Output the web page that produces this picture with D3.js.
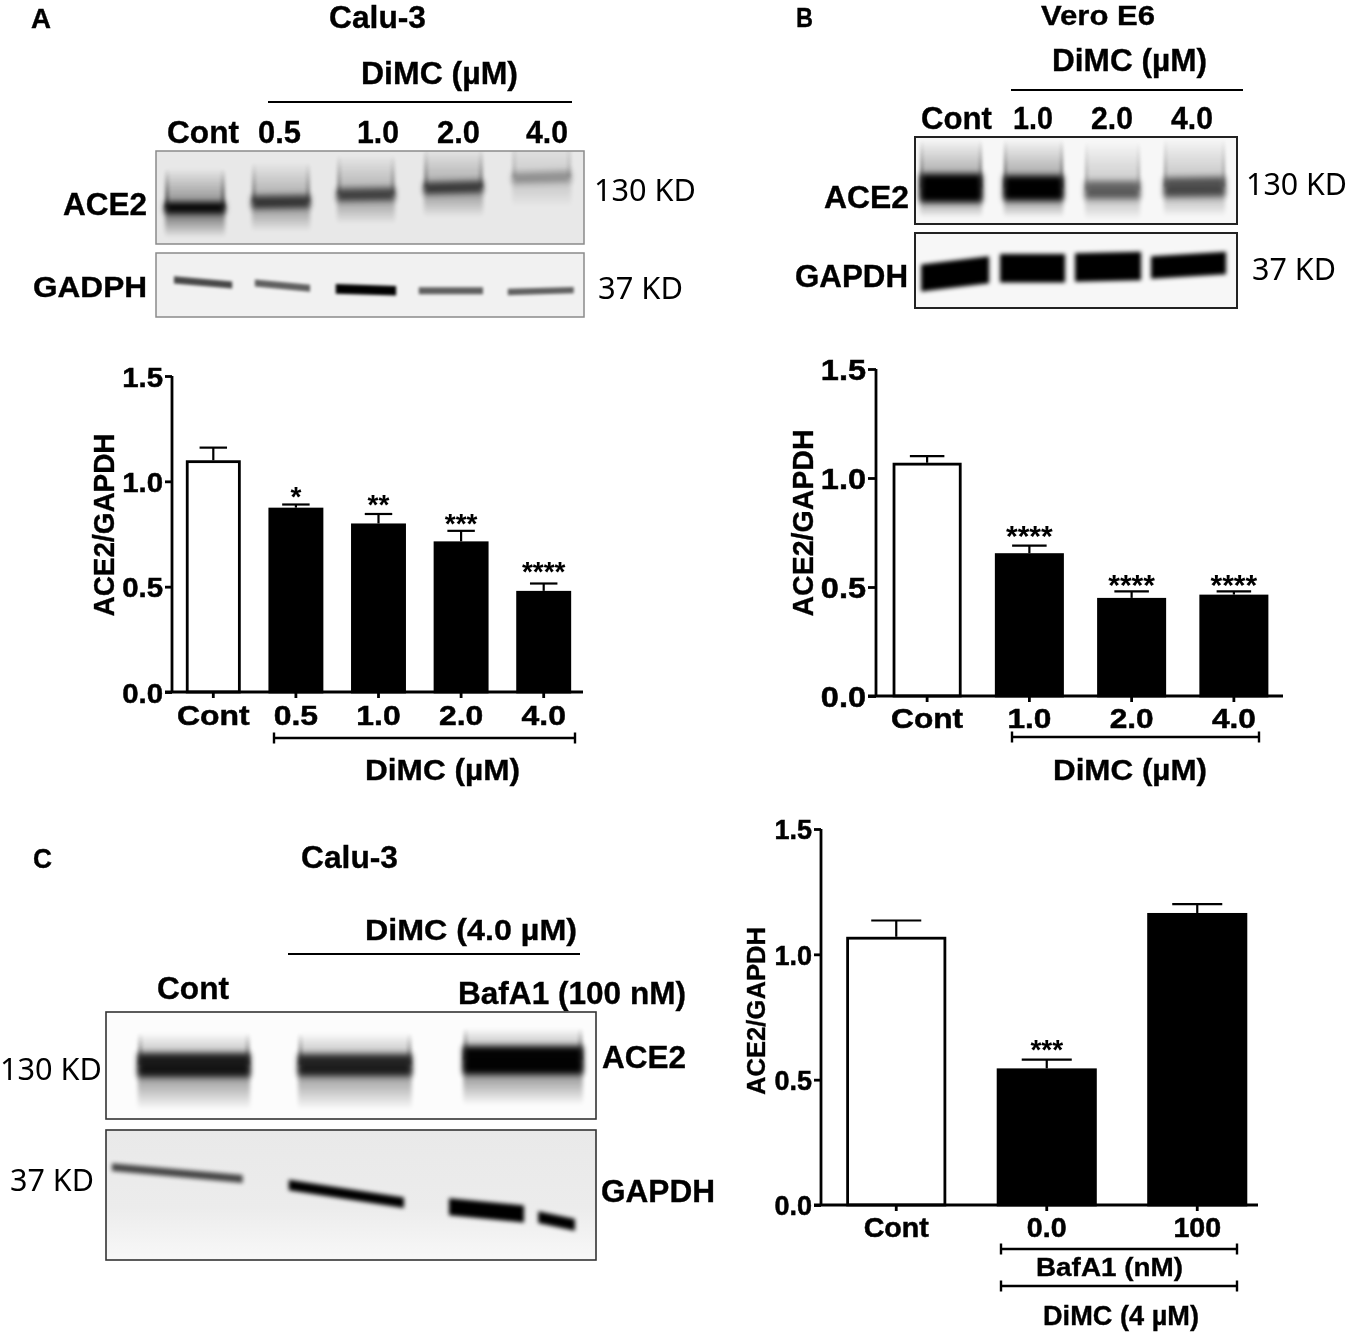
<!DOCTYPE html>
<html><head><meta charset="utf-8">
<script src="https://cdn.jsdelivr.net/npm/d3@7/dist/d3.min.js"></script>
<style>html,body{margin:0;background:#fff}svg{display:block;filter:blur(0.35px)}</style></head>
<body><svg id="fig" width="1350" height="1332"></svg>
<script>
// ---- bar chart data ----
const catsA = ["Cont","0.5","1.0","2.0","4.0"];
const meanA = [1.10,0.875,0.80,0.715,0.48];
const topA  = [1.16,0.89,0.845,0.765,0.515];
const starA = ["","*","**","***","****"];

const catsB = ["Cont","1.0","2.0","4.0"];
const meanB = [1.07,0.655,0.45,0.465];
const topB  = [1.10,0.69,0.48,0.48];
const starB = ["","****","****","****"];

const catsC = ["Cont","0.0","100"];
const meanC = [1.07,0.545,1.165];
const topC  = [1.135,0.58,1.20];
const starC = ["","***",""];

const yTicks = [0,0.5,1.0,1.5];

// ---- blot band readings, in percent of each blot's width / height ----
const aAceLanes=[[2.1,16.1],[22.4,36],[42.3,55.8],[62.6,76.4],[83.2,97]];
const aAceY0=[61,55,47,40,29], aAceY1=[61,54,46,38,27];
const aAceSignal=[1,.68,.62,.66,.28], aAceThick=[11,13,13,12,12];
const aGapLanes=[[4.2,17.8],[23.1,36],[42,56.1],[61.4,76.4],[82.2,97.6]];
const aGapY0=[42,47,56,59,61], aGapY1=[50,55,59,59,58];
const aGapSignal=[.7,.6,1,.6,.6], aGapThick=[11,11,15,11,10];
const bAceLanes=[[1.6,20.8],[27.6,46],[52.8,69.9],[77.3,96.3]];
const bAceY0=[58.6,58.6,61,58], bAceY1=[58.6,58.6,61,57];
const bAceSignal=[1,1,.5,.58], bAceThick=[32,28,20,22];
const bGapLanes=[[1.9,23],[26.4,46.6],[49.7,70.2],[73.3,96.6]];
const bGapY0=[60,47,46,46], bGapY1=[49,47,44,40];
const bGapSignal=[1,1,1,1], bGapThick=[36,38,38,30];
const cAceLanes=[[6.5,29.4],[39.2,62.4],[72.9,97.3]];
const cAceY0=[49.5,49.5,45], cAceY1=[49.5,49.5,45];
const cAceSignal=[.85,.8,.98], cAceThick=[22,20,26];
const cGapLanes=[[1.2,27.9],[37.3,60.8],[70,85.3],[88.2,95.7]];
const cGapY0=[28.5,42.3,59,67], cGapY1=[37.7,56,64.6,73];
const cGapSignal=[.7,1,1,1], cGapThick=[6,8,13,9];

const svg = d3.select("#fig");
const SANS = "'Liberation Sans',Arial,sans-serif";
const KD = "'Noto Sans','Open Sans',sans-serif";
const defs = svg.append("defs");
[["b1",1.4],["b2",2.2],["b3",3],["b4",4]].forEach(([id,s])=>{
  defs.append("filter").attr("id",id).attr("filterUnits","userSpaceOnUse")
    .attr("x",0).attr("y",0).attr("width",1350).attr("height",1332)
    .append("feGaussianBlur").attr("stdDeviation",s);
});
function grad(id,stops){
  const g=defs.append("linearGradient").attr("id",id).attr("x1",0).attr("x2",0).attr("y1",0).attr("y2",1);
  stops.forEach(([o,c,a])=>g.append("stop").attr("offset",o).attr("stop-color",c).attr("stop-opacity",a));
}
grad("fadeUp",[[0,"#000",0],[1,"#000",1]]);
grad("fadeDown",[[0,"#000",1],[1,"#000",0]]);
grad("cGapBg",[[0,"#e9e9e9",1],[0.6,"#ececec",1],[1,"#f8f8f8",1]]);

function txt(s,x1,x2,base,size,opt={}){
  const w=opt.weight||"700";
  const t=svg.append("text").attr("x",x1).attr("y",base).text(s)
    .attr("font-family",opt.family||SANS).attr("font-weight",w)
    .attr("font-size",size).attr("fill",opt.fill||"#000");
  if(w==="700") t.attr("stroke","#000").attr("stroke-width",0.35);
  t.attr("textLength",x2-x1).attr("lengthAdjust","spacingAndGlyphs");
  return t;
}
function stretch(sel,k){
  sel.each(function(){
    d3.select(this).attr("textLength",this.getComputedTextLength()*k).attr("lengthAdjust","spacingAndGlyphs");
  });
}
function hline(x1,x2,y,w=2){
  svg.append("line").attr("x1",x1).attr("x2",x2).attr("y1",y).attr("y2",y).attr("stroke","#000").attr("stroke-width",w);
}
function bracket(x1,x2,y){
  hline(x1,x2,y,2.4);
  [x1,x2].forEach(x=>svg.append("line").attr("x1",x).attr("x2",x).attr("y1",y-5.5).attr("y2",y+5.5).attr("stroke","#000").attr("stroke-width",2.4));
}

let clipN=0;
function blot(box,stroke,fill,lanes,y0,y1,signal,thick,sm,coreBlur){
  const sx=d3.scaleLinear().domain([0,100]).range([box[0],box[1]]);
  const sy=d3.scaleLinear().domain([0,100]).range([box[2],box[3]]);
  const h=(box[3]-box[2])/100;
  const id="clip"+(clipN++);
  defs.append("clipPath").attr("id",id).append("rect")
    .attr("x",box[0]).attr("y",box[2]).attr("width",box[1]-box[0]).attr("height",box[3]-box[2]);
  svg.append("rect").attr("x",box[0]).attr("y",box[2]).attr("width",box[1]-box[0]).attr("height",box[3]-box[2]).attr("fill",fill);
  const g=svg.append("g").attr("clip-path",`url(#${id})`);
  const poly=(l,a,b,t)=>{
    const x1=sx(l[0]),x2=sx(l[1]),ya=sy(a),yb=sy(b),hh=t*h/2;
    return `M${x1},${ya-hh}L${x2},${yb-hh}L${x2},${yb+hh}L${x1},${ya+hh}Z`;
  };
  lanes.forEach((l,i)=>{
    if(sm){
      const m=(y0[i]+y1[i])/2;
      // gel smear above and below the band, fading away from it
      g.append("rect").attr("x",sx(l[0])).attr("width",sx(l[1])-sx(l[0]))
        .attr("y",sy(m-sm[0])).attr("height",sy(m)-sy(m-sm[0]))
        .attr("fill","url(#fadeUp)").attr("opacity",signal[i]*0.42).attr("filter","url(#b2)");
      g.append("rect").attr("x",sx(l[0])).attr("width",sx(l[1])-sx(l[0]))
        .attr("y",sy(m)).attr("height",sy(m+sm[1])-sy(m))
        .attr("fill","url(#fadeDown)").attr("opacity",signal[i]*0.62).attr("filter","url(#b2)");
      // streak at the lane edges above the band
      [l[0],l[1]-1].forEach(e=>g.append("rect").attr("x",sx(e)).attr("width",sx(1)-sx(0))
        .attr("y",sy(m-sm[0])).attr("height",sy(m)-sy(m-sm[0]))
        .attr("fill","url(#fadeUp)").attr("opacity",signal[i]*0.4).attr("filter","url(#b1)"));
    }
    g.append("path").attr("d",poly(l,y0[i],y1[i],thick[i]))
      .attr("fill","#000").attr("opacity",signal[i]).attr("filter",`url(#${coreBlur})`);
  });
  svg.append("rect").attr("x",box[0]).attr("y",box[2]).attr("width",box[1]-box[0]).attr("height",box[3]-box[2])
    .attr("fill","none").attr("stroke",stroke[0]).attr("stroke-width",stroke[1]);
}

function chart(o){
  const x=d3.scaleBand().domain(o.cats).range(o.xr).paddingInner(o.pad).paddingOuter(o.pad/2);
  const y=d3.scaleLinear().domain([0,1.5]).range(o.yr);
  const g=svg.append("g");
  const rows=o.cats.map((c,i)=>({c,m:o.mean[i],t:o.top[i],s:o.star[i],i,gap:o.starGap[i]}));
  const e=g.selectAll(".e").data(rows).join("g").attr("stroke","#000").attr("stroke-width",2.2);
  e.append("line").attr("x1",d=>x(d.c)+x.bandwidth()/2).attr("x2",d=>x(d.c)+x.bandwidth()/2).attr("y1",d=>y(d.m)).attr("y2",d=>y(d.t));
  e.append("line").attr("x1",d=>x(d.c)+x.bandwidth()/4).attr("x2",d=>x(d.c)+x.bandwidth()*3/4).attr("y1",d=>y(d.t)).attr("y2",d=>y(d.t));
  g.selectAll(".b").data(rows).join("rect")
    .attr("x",d=>x(d.c)+1.4).attr("width",x.bandwidth()-2.8)
    .attr("y",d=>y(d.m)+1.4).attr("height",d=>y(0)-y(d.m)-1.4)
    .attr("fill",d=>d.i===0?"#fff":"#000").attr("stroke","#000").attr("stroke-width",2.8);
  g.selectAll(".s").data(rows.filter(d=>d.s)).join("text")
    .attr("x",d=>x(d.c)+x.bandwidth()/2).attr("y",d=>y(d.t)-d.gap+0.57*o.starSize)
    .attr("text-anchor","middle").attr("font-family",SANS).attr("font-weight","700")
    .attr("font-size",o.starSize).text(d=>d.s);
  const ax=d3.axisLeft(y).tickValues(yTicks).tickFormat(d3.format(".1f")).tickSize(o.tick).tickPadding(2);
  const ga=g.append("g").attr("transform",`translate(${o.xr[0]},0)`).call(ax);
  const bx=d3.axisBottom(x).tickSize(6).tickSizeOuter(0);
  const gb=g.append("g").attr("transform",`translate(0,${o.yr[0]})`).call(bx);
  [ga,gb].forEach(a=>{
    a.selectAll("path,line").attr("stroke","#000").attr("stroke-width",2.8);
    a.select("path").attr("d",a===ga?`M0,${o.yr[0]}V${o.yr[1]}`:`M${o.xr[0]-o.tick},0H${o.xEnd}`);
    a.selectAll("text").attr("font-family",SANS).attr("font-weight","700").attr("fill","#000").attr("stroke","#000").attr("stroke-width",0.5);
  });
  ga.selectAll("text").attr("font-size",o.yFont).attr("dy",o.yFont*0.36);
  stretch(ga.selectAll("text"),o.yK);
  gb.selectAll("text").attr("font-size",o.xFont).attr("dy",0).attr("y",o.xBase-o.yr[0]);
  stretch(gb.selectAll("text"),o.xK);
  svg.append("text").attr("transform",`translate(${o.lab[0]},${o.lab[1]}) rotate(-90)`)
    .attr("text-anchor","middle").attr("font-family",SANS).attr("font-weight","700")
    .attr("font-size",o.lab[2]).text("ACE2/GAPDH").attr("stroke","#000").attr("stroke-width",0.35)
    .attr("textLength",o.lab[3]).attr("lengthAdjust","spacingAndGlyphs");
}

// ================ Panel A ================
txt("A",31,51,28,27);
txt("Calu-3",329,426,28,31);
txt("DiMC (µM)",361,518,84,31);
hline(268,572,102,2);
txt("Cont",167,239,143,31); txt("0.5",258,301,143,31); txt("1.0",357,399,143,31);
txt("2.0",437,480,143,31); txt("4.0",526,568,143,31);
blot([156,584,151,244],["#8a8a8a",1.5],"#e8e8e8",aAceLanes,aAceY0,aAceY1,aAceSignal,aAceThick,[42,32],"b3");
blot([156,584,253,317],["#8a8a8a",1.5],"#f1f1f1",aGapLanes,aGapY0,aGapY1,aGapSignal,aGapThick,null,"b1");
txt("ACE2",63,147,215,31); txt("GADPH",33,147,297,29);
txt("130 KD",594,696,201,30,{family:KD,weight:"400"});
txt("37 KD",598,683,299,30,{family:KD,weight:"400"});
chart({cats:catsA,mean:meanA,top:topA,star:starA,starGap:[0,14,15.5,13.5,18.5],xr:[172,585],pad:0.335,yr:[692,376],xEnd:583,tick:7,
  starSize:28,yFont:28,yK:1.05,xFont:28,xK:1.14,xBase:725,lab:[114,525,29,183]});
bracket(274,575,738);
txt("DiMC (µM)",365,520,780,29);

// ================ Panel B ================
txt("B",796,813,27,27);
txt("Vero E6",1041,1155,24.5,27);
txt("DiMC (µM)",1052,1207,71,31);
hline(1011,1243,90,2);
txt("Cont",921,992,129,31); txt("1.0",1013,1053,129,31); txt("2.0",1091,1133,129,31); txt("4.0",1171,1213,129,31);
blot([915,1237,137,224],["#222",2],"#f7f7f7",bAceLanes,bAceY0,bAceY1,bAceSignal,bAceThick,[56,34],"b3");
blot([915,1237,233,308],["#222",2],"#f7f7f7",bGapLanes,bGapY0,bGapY1,bGapSignal,bGapThick,null,"b2");
txt("ACE2",824,909,208,31); txt("GAPDH",795,908,287,31);
txt("130 KD",1246,1347,195,30,{family:KD,weight:"400"});
txt("37 KD",1252,1336,280,30,{family:KD,weight:"400"});
chart({cats:catsB,mean:meanB,top:topB,star:starB,starGap:[0,17,13.7,13.7],xr:[876,1285],pad:0.325,yr:[696,369],xEnd:1283,tick:8,
  starSize:30,yFont:29,yK:1.12,xFont:28,xK:1.13,xBase:728,lab:[813,523,29,187]});
bracket(1012,1259,737);
txt("DiMC (µM)",1053,1207,780,29);

// ================ Panel C ================
txt("C",33,52,868,27);
txt("Calu-3",301,398,868,31);
txt("DiMC (4.0 µM)",365,577,940,29);
hline(288,580,954,2);
txt("Cont",157,229,999,31);
txt("BafA1 (100 nM)",458,686,1004,31);
blot([106,596,1012,1119],["#333",1.6],"#fcfcfc",cAceLanes,cAceY0,cAceY1,cAceSignal,cAceThick,[30,42],"b3");
blot([106,596,1130,1260],["#333",1.6],"url(#cGapBg)",cGapLanes,cGapY0,cGapY1,cGapSignal,cGapThick,null,"b2");
txt("ACE2",602,686,1068,31); txt("GAPDH",601,715,1202,31);
txt("130 KD",0,102,1080,30,{family:KD,weight:"400"});
txt("37 KD",10,94,1191,30,{family:KD,weight:"400"});
chart({cats:catsC,mean:meanC,top:topC,star:starC,starGap:[0,17,0],xr:[821,1272.5],pad:0.335,yr:[1205,829],xEnd:1258,tick:7,
  starSize:28,yFont:27,yK:1.0,xFont:27,xK:1.06,xBase:1237,lab:[765,1011,26,168]});
bracket(1001,1237,1249);
bracket(1001,1237,1286);
txt("BafA1 (nM)",1036,1183,1276,26);
txt("DiMC (4 µM)",1043,1199,1325,27);
</script></body></html>
